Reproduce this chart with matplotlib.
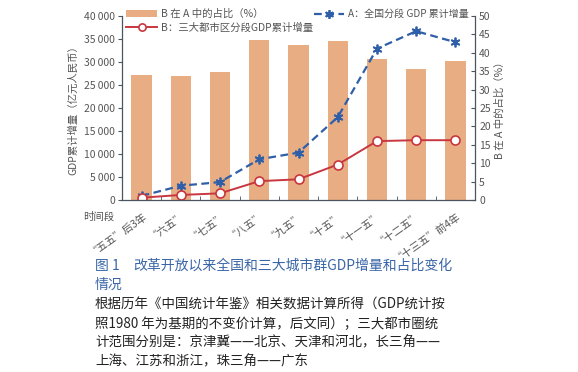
import matplotlib.pyplot as plt
from matplotlib.ticker import FixedLocator, FuncFormatter

plt.switch_backend("Agg")
plt.rcParams["font.family"] = ["Noto Sans CJK SC", "DejaVu Sans"]

periods = ["“五五”后3年", "“六五”", "“七五”", "“八五”", "“九五”",
           "“十五”", "“十一五”", "“十二五”", "“十三五”前4年"]
share_b_in_a = [34.0, 33.8, 34.8, 43.5, 42.0, 43.2, 38.3, 35.6, 37.8]
gdp_a = [900, 3100, 3900, 8850, 10300, 18000, 32900, 36700, 34300]
gdp_b = [500, 1100, 1450, 4100, 4500, 7700, 12800, 13000, 13000]

bar_color = "#e8ad82"
red = "#c8373f"
blue = "#2f5fa8"
grey_text = "#555555"
spine_color = "#4a5560"

fig = plt.figure(figsize=(5.78, 3.72), dpi=100)
ax = fig.add_axes([122 / 578, 1 - 200 / 372, (475 - 122) / 578, (200 - 16) / 372])
ax2 = ax.twinx()
# lines on the left axis must sit above the bars of the right axis
ax.set_zorder(ax2.get_zorder() + 1)
ax.patch.set_visible(False)

x = list(range(len(periods)))
bars = ax2.bar(x, share_b_in_a, width=0.52, color=bar_color, label="B 在 A 中的占比（%）")
line_a, = ax.plot(x, gdp_a, linestyle=(0, (3.5, 2)), color=blue, lw=1.6,
                  marker=(6, 2, 0), markersize=7, markeredgewidth=1.3,
                  label="A：全国分段 GDP 累计增量")
line_b, = ax.plot(x, gdp_b, color=red, lw=1.4, marker="o", markersize=6.5,
                  markerfacecolor="white", markeredgecolor=red, markeredgewidth=1.2,
                  label="B：三大都市区分段GDP累计增量")

ax.set_xlim(-0.5, len(periods) - 0.5)
ax.set_ylim(0, 40000)
ax2.set_ylim(0, 50)
ax.set_yticks(range(0, 40001, 5000))
ax.yaxis.set_major_formatter(FuncFormatter(lambda v, _: f"{int(v):,}".replace(",", "\u2009")))
ax2.set_yticks(range(0, 51, 5))

ax.set_xticks(x)
ax.set_xticklabels(periods, rotation=35, ha="right", rotation_mode="anchor",
                   fontsize=7.5, color=grey_text)
ax.xaxis.set_minor_locator(FixedLocator([i + 0.5 for i in range(len(periods) - 1)]))
ax.tick_params(axis="x", which="major", length=0, pad=6)
ax.tick_params(axis="x", which="minor", direction="in", length=3, color=spine_color)
ax.tick_params(axis="y", direction="out", length=3, labelsize=7.5,
               labelcolor=grey_text, color=spine_color, pad=2)
ax2.tick_params(axis="y", direction="in", length=3, labelsize=7.5,
                labelcolor=grey_text, color=spine_color, pad=3)

for a in (ax, ax2):
    a.spines["top"].set_visible(False)
    for side in ("left", "right", "bottom"):
        a.spines[side].set_color(spine_color)
        a.spines[side].set_linewidth(0.9)
ax.spines["right"].set_visible(False)
ax2.spines["left"].set_visible(False)
ax2.spines["bottom"].set_visible(False)

ax.set_ylabel("GDP累计增量（亿元人民币）", fontsize=7.5, color=grey_text, labelpad=4)
ax2.set_ylabel("B 在 A 中的占比（%）", fontsize=7.5, color=grey_text, rotation=90, labelpad=3)

fig.text(83 / 578, 1 - 217 / 372, "时间段", fontsize=7.5, color=grey_text, va="center")

leg1 = fig.legend(handles=[bars, line_b], loc="upper left",
                  bbox_to_anchor=(126 / 578, 1 - 9 / 372), frameon=False,
                  fontsize=7.5, handlelength=3.0, handletextpad=0.4, markerscale=0.8,
                  labelspacing=0.3, borderaxespad=0, borderpad=0)
leg2 = fig.legend(handles=[line_a], loc="upper left",
                  bbox_to_anchor=(314 / 578, 1 - 9 / 372), frameon=False,
                  fontsize=7.2, handlelength=3.0, handletextpad=0.4, markerscale=0.9,
                  borderaxespad=0, borderpad=0)
for leg in (leg1, leg2):
    for t in leg.get_texts():
        t.set_color(grey_text)

caption_blue = "#3a66a8"
fig.text(95 / 578, 1 - 266 / 372, "图 1", fontsize=10, color=caption_blue, va="center")
fig.text(133 / 578, 1 - 266 / 372, "改革开放以来全国和三大城市群GDP增量和占比变化",
         fontsize=10, color=caption_blue, va="center")
fig.text(95 / 578, 1 - 285 / 372, "情况", fontsize=10, color=caption_blue, va="center")

body = [
    "根据历年《中国统计年鉴》相关数据计算所得（GDP统计按",
    "照1980 年为基期的不变价计算，后文同）；三大都市圈统",
    "计范围分别是：京津冀——北京、天津和河北，长三角——",
    "上海、江苏和浙江，珠三角——广东",
]
for i, line in enumerate(body):
    fig.text(95 / 578, 1 - (305 + i * 18.7) / 372, line, fontsize=9.7,
             color="#222222", va="center")

fig.savefig("out.png", dpi=100)
